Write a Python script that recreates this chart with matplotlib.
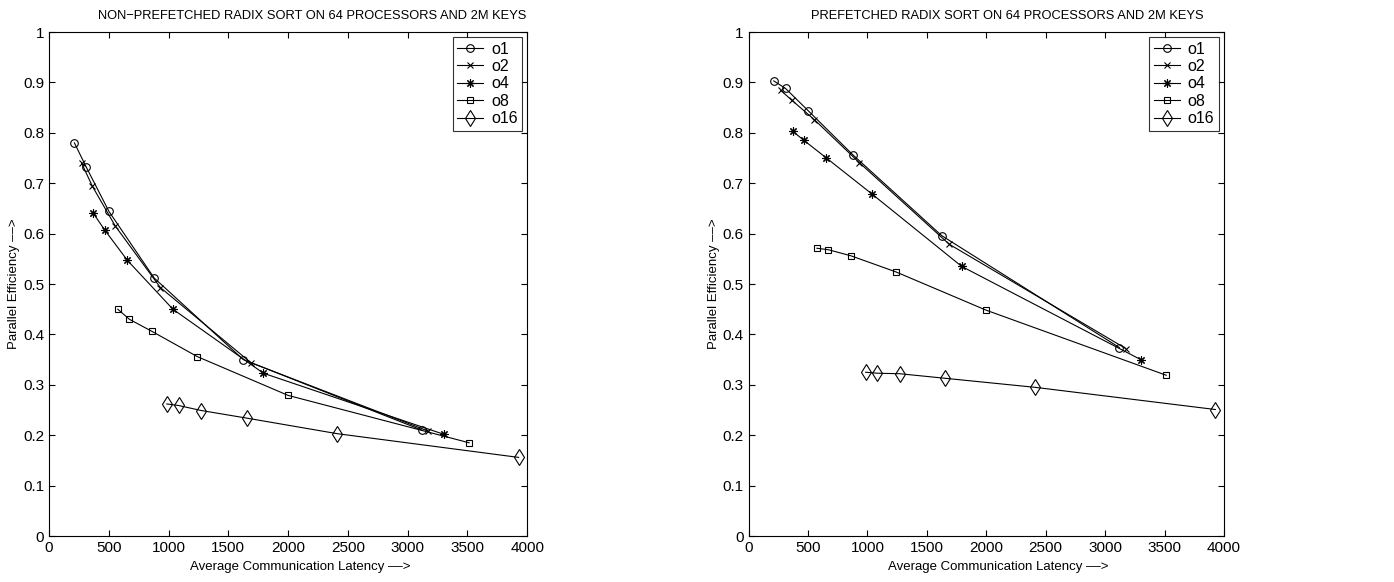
import matplotlib
matplotlib.use('Agg')
import matplotlib.pyplot as plt

plt.rcParams['font.family'] = ['Liberation Sans Narrow', 'Liberation Sans', 'DejaVu Sans']

# average communication latency for each series (same for both panels)
lat_o1 = [212, 311, 501, 879, 1625, 3120]
lat_o2 = [272, 362, 554, 931, 1688, 3174]
lat_o4 = [371, 466, 655, 1036, 1793, 3300]
lat_o8 = [575, 672, 861, 1240, 2000, 3514]
lat_o16 = [985, 1083, 1273, 1652, 2412, 3928]

# parallel efficiency, non-prefetched
np_o1 = [0.780, 0.732, 0.644, 0.512, 0.350, 0.210]
np_o2 = [0.740, 0.694, 0.615, 0.493, 0.344, 0.208]
np_o4 = [0.640, 0.607, 0.547, 0.450, 0.323, 0.202]
np_o8 = [0.450, 0.430, 0.406, 0.356, 0.279, 0.185]
np_o16 = [0.262, 0.259, 0.249, 0.234, 0.203, 0.156]

# parallel efficiency, prefetched
pf_o1 = [0.903, 0.888, 0.844, 0.756, 0.596, 0.374]
pf_o2 = [0.884, 0.865, 0.826, 0.741, 0.579, 0.372]
pf_o4 = [0.803, 0.785, 0.750, 0.679, 0.535, 0.350]
pf_o8 = [0.571, 0.568, 0.556, 0.524, 0.448, 0.319]
pf_o16 = [0.325, 0.323, 0.322, 0.313, 0.295, 0.251]

labels = ['o1', 'o2', 'o4', 'o8', 'o16']
markers = ['o', 'x', (8, 2, 0), 's', 'd']
msizes = [5.5, 4.5, 6, 5, 8]
lats = [lat_o1, lat_o2, lat_o4, lat_o8, lat_o16]

fig = plt.figure(figsize=(13.94, 5.82), dpi=100)
ax1 = fig.add_axes([0.0352, 0.079, 0.343, 0.866])
ax2 = fig.add_axes([0.537, 0.079, 0.341, 0.866])

panels = [
    (ax1, [np_o1, np_o2, np_o4, np_o8, np_o16],
     'NON\u2212PREFETCHED RADIX SORT ON 64 PROCESSORS AND 2M KEYS', 0.55),
    (ax2, [pf_o1, pf_o2, pf_o4, pf_o8, pf_o16],
     'PREFETCHED RADIX SORT ON 64 PROCESSORS AND 2M KEYS', 0.545),
]

for ax, effs, title, tx in panels:
    for lat, eff, lab, m, ms in zip(lats, effs, labels, markers, msizes):
        ax.plot(lat, eff, color='black', linewidth=0.8, marker=m,
                markersize=ms, markerfacecolor='none', markeredgecolor='black',
                markeredgewidth=0.8, label=lab)
    ax.set_xlim(0, 4000)
    ax.set_ylim(0, 1)
    ax.set_xticks(range(0, 4001, 500))
    ax.set_yticks([i / 10 for i in range(11)])
    ax.set_yticklabels(['0'] + ['%.1f' % (i / 10) for i in range(1, 10)] + ['1'])
    ax.tick_params(direction='in', top=True, right=True, length=4,
                   labelsize=11, width=0.8)
    for s in ax.spines.values():
        s.set_linewidth(0.8)
    ax.set_xlabel('Average Communication Latency \u2013\u2013>', fontsize=9.5)
    ax.xaxis.set_label_coords(0.525, -0.05)
    ax.set_ylabel('Parallel Efficiency \u2013\u2013>', fontsize=9.5, labelpad=2)
    ax.text(tx, 1.02, title, transform=ax.transAxes, ha='center', va='bottom',
            fontsize=9.3)
    leg = ax.legend(loc='upper right', fontsize=11.5, frameon=True, fancybox=False,
                    edgecolor='black', borderaxespad=0.3, handlelength=1.6,
                    labelspacing=0.15, borderpad=0.3, handletextpad=0.5)
    leg.get_frame().set_linewidth(0.8)

fig.savefig('out.png', dpi=100)
